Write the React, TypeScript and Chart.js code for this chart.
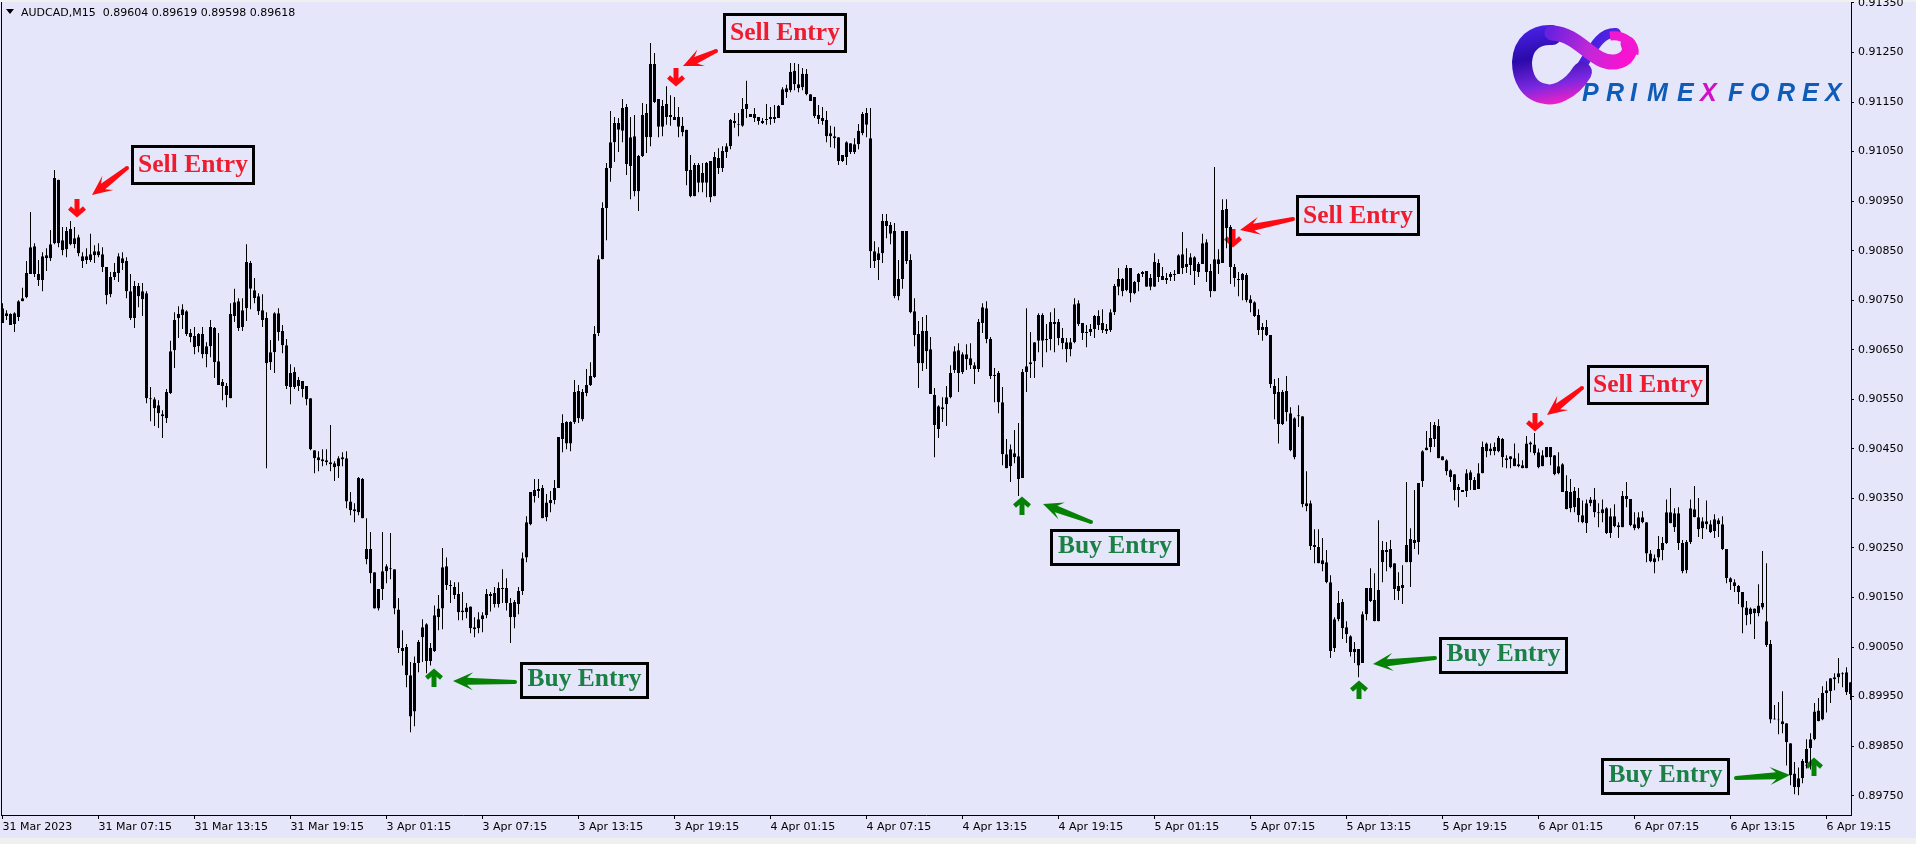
import React, { useEffect, useRef } from "react";
import Chart from "chart.js/auto";

// Candles are [open, high, low, close] in 1/100000 of a price unit.
const mar31Candles = [
[90734,90744,90704,90704],[90724,90730,90710,90718],[90722,90724,90700,90700],[90702,90726,90686,90724],[90716,90750,90708,90748],[90748,90775,90748,90754],[90756,90829,90754,90805],[90803,90928,90803,90857],
[90859,90865,90797,90803],[90803,90831,90779,90791],[90791,90847,90768,90839],[90841,90855,90809,90835],[90835,90892,90829,90863],[90865,91013,90863,90997],[90993,90993,90857,90865],[90871,90898,90841,90851],
[90853,90898,90837,90890],[90894,90910,90861,90863],[90863,90898,90855,90875],[90877,90882,90839,90845],[90839,90847,90815,90829],[90831,90855,90823,90839],[90831,90884,90827,90843],[90841,90861,90825,90849],
[90849,90865,90837,90841],[90843,90857,90807,90817],[90817,90817,90742,90760],[90762,90807,90756,90797],[90797,90825,90791,90807],[90805,90845,90787,90839],[90835,90847,90811,90825],[90829,90837,90754,90768],
[90768,90803,90710,90714],[90714,90789,90694,90779],[90779,90785,90736,90758],[90752,90785,90718,90768],[90764,90768,90542,90552],[90552,90575,90506,90550],[90550,90554,90496,90532],[90538,90548,90492,90522],
[90520,90528,90472,90516],[90512,90571,90502,90565],[90563,90668,90561,90647],[90649,90726,90613,90710],[90714,90738,90674,90722],[90720,90742,90692,90732],[90728,90730,90678,90682],[90684,90692,90665,90676],
[90678,90696,90641,90655],[90657,90684,90645,90682],[90682,90696,90633,90641],[90641,90665,90615,90657],[90657,90710,90635,90696],[90694,90696,90593,90625],[90627,90684,90579,90579],[90585,90591,90548,90577],
[90577,90583,90534,90559],[90552,90744,90552,90722],[90718,90773,90706,90746],[90748,90754,90688,90694],[90696,90754,90688,90730],[90734,90863,90708,90827],[90825,90829,90732,90773],[90770,90795,90744,90754],
[90758,90764,90720,90728],[90730,90762,90696,90710],[90714,90726,90411,90623],[90625,90670,90609,90645],[90645,90726,90603,90724],[90724,90734,90668,90686],[90688,90700,90643,90659],[90659,90672,90571,90577],
[90575,90621,90540,90603],[90605,90615,90571,90575],[90577,90595,90567,90589],[90587,90587,90554,90571],[90577,90577,90538,90550],[90552,90552,90447,90449],[90447,90447,90401,90431],[90433,90445,90405,90427],
[90429,90449,90415,90425],[90427,90449,90417,90423],[90423,90498,90405,90419],[90421,90425,90385,90413],[90415,90435,90391,90431],[90433,90443,90415,90429],[90431,90445,90330,90344],[90344,90363,90316,90326],
[90328,90340,90302,90324],[90322,90393,90316,90391],[90389,90391,90310,90310],[90227,90310,90217,90248],[90248,90282,90179,90199],[90201,90201,90128,90128],[90128,90167,90124,90167],[90167,90282,90145,90203],
];
const apr3Candles = [
[90203,90217,90179,90213],[90209,90280,90187,90207],[90207,90207,90116,90128],[90126,90149,90038,90048],[90048,90084,90013,90042],[90050,90056,89969,89993],[89993,90020,89878,89910],[89920,90031,89890,90018],
[90018,90064,89999,90060],[90070,90106,90020,90090],[90096,90098,89997,90022],[90022,90058,90013,90048],[90042,90134,90040,90114],[90110,90155,90084,90128],[90128,90250,90086,90211],[90213,90231,90165,90175],
[90175,90185,90139,90173],[90171,90181,90147,90155],[90157,90181,90104,90120],[90124,90161,90104,90120],[90120,90139,90108,90130],[90132,90132,90078,90088],[90090,90110,90070,90086],[90088,90120,90078,90106],
[90106,90120,90080,90114],[90114,90167,90108,90157],[90153,90161,90122,90157],[90159,90171,90130,90137],[90137,90181,90130,90169],[90169,90207,90139,90167],[90169,90189,90124,90139],[90139,90149,90058,90110],
[90110,90145,90088,90141],[90137,90171,90116,90163],[90163,90241,90155,90229],[90231,90314,90221,90302],[90298,90363,90296,90363],[90355,90389,90342,90367],[90369,90389,90351,90365],[90371,90377,90310,90310],
[90312,90359,90304,90342],[90340,90365,90322,90347],[90347,90387,90338,90371],[90371,90474,90371,90474],[90470,90520,90443,90502],[90504,90506,90449,90461],[90461,90506,90445,90504],[90504,90589,90500,90565],
[90567,90579,90502,90512],[90510,90571,90506,90565],[90563,90611,90556,90579],[90579,90625,90577,90597],[90595,90698,90593,90682],[90684,90841,90678,90833],[90833,90948,90833,90936],[90936,91027,90871,91017],
[91017,91132,90989,91069],[91069,91120,91029,91108],[91108,91118,91049,91094],[91092,91156,91069,91138],[91140,91146,91003,91025],[91021,91120,90954,91079],[91081,91124,90960,90970],[90970,91043,90930,91041],
[91041,91148,91039,91124],[91128,91146,91047,91079],[91079,91269,91061,91227],[91227,91249,91148,91150],[91156,91156,91079,91100],[91100,91154,91081,91142],[91146,91182,91104,91120],[91124,91164,91102,91120],
[91120,91160,91114,91114],[91120,91140,91079,91100],[91102,91120,91081,91089],[91094,91094,90982,91011],[91013,91043,90958,90960],[90960,91027,90960,91023],[91023,91027,90968,90987],[91007,91027,90968,90987],
[90987,91029,90958,91027],[91031,91031,90948,90958],[90960,91049,90960,91039],[91037,91057,91005,91017],[91017,91061,91009,91051],[91049,91067,91037,91061],[91061,91116,91055,91114],[91112,91128,91098,91108],
[91106,91128,91081,91104],[91102,91158,91100,91136],[91136,91193,91118,91146],[91126,91126,91120,91120],[91126,91138,91110,91118],[91120,91120,91104,91112],[91112,91118,91106,91108],[91116,91146,91104,91114],
];
const apr4Candles = [
[91116,91140,91104,91120],[91120,91144,91108,91116],[91118,91144,91118,91142],[91144,91180,91144,91176],[91178,91185,91158,91170],[91174,91229,91170,91211],[91213,91229,91174,91186],[91186,91227,91170,91178],
[91180,91219,91174,91207],[91207,91217,91164,91166],[91166,91166,91152,91152],[91160,91160,91118,91122],[91124,91144,91106,91116],[91118,91140,91104,91112],[91114,91132,91069,91081],[91087,91102,91059,91081],
[91081,91100,91057,91077],[91079,91079,91023,91031],[91031,91043,91029,91043],[91039,91071,91023,91069],[91067,91067,91045,91049],[91049,91077,91045,91065],[91065,91106,91055,91092],[91087,91130,91083,91126],
[91128,91138,91079,91104],[91077,91138,90815,90849],[90849,90869,90815,90829],[90831,90857,90791,90845],[90845,90924,90825,90910],[90910,90924,90875,90900],[90902,90908,90863,90884],[90890,90906,90754,90758],
[90758,90831,90750,90793],[90793,90890,90773,90890],[90890,90890,90823,90829],[90831,90843,90724,90726],[90728,90754,90657,90680],[90682,90708,90573,90623],[90623,90716,90607,90688],[90688,90720,90611,90647],
[90651,90676,90561,90561],[90559,90573,90433,90498],[90490,90538,90472,90536],[90530,90554,90504,90534],[90540,90577,90496,90554],[90554,90619,90552,90603],[90609,90657,90603,90647],[90649,90663,90565,90603],
[90605,90645,90601,90641],[90641,90661,90609,90631],[90633,90663,90611,90619],[90619,90625,90581,90611],[90611,90712,90605,90706],[90704,90744,90684,90736],[90734,90748,90663,90672],[90672,90676,90591,90597],
[90599,90613,90544,90597],[90603,90607,90522,90544],[90544,90575,90417,90439],[90439,90470,90411,90411],[90415,90459,90383,90449],[90441,90488,90421,90433],[90435,90502,90355,90389],[90391,90611,90391,90605],
[90605,90734,90565,90617],[90621,90686,90593,90625],[90627,90665,90593,90665],[90668,90724,90645,90720],[90720,90724,90615,90668],[90672,90702,90645,90670],[90672,90726,90649,90706],[90706,90734,90645,90702],
[90706,90712,90659,90674],[90674,90694,90651,90663],[90665,90674,90625,90651],[90651,90674,90637,90665],[90665,90754,90663,90742],[90744,90750,90698,90702],[90704,90704,90670,90684],[90684,90700,90655,90686],
[90686,90702,90678,90692],[90692,90720,90674,90718],[90718,90730,90690,90700],[90704,90732,90684,90690],[90692,90702,90682,90688],[90690,90732,90686,90726],[90726,90783,90720,90779],[90777,90815,90760,90793],
[90793,90795,90758,90768],[90770,90821,90768,90815],[90815,90815,90746,90764],[90764,90789,90762,90787],[90787,90805,90768,90803],[90803,90809,90797,90807],[90809,90809,90777,90777],[90795,90803,90770,90777],
];
const apr5Candles = [
[90777,90845,90777,90827],[90825,90833,90787,90797],[90799,90817,90791,90791],[90795,90805,90783,90791],[90797,90807,90789,90803],[90801,90811,90789,90803],[90803,90843,90803,90841],[90843,90888,90803,90815],
[90817,90855,90805,90823],[90821,90845,90801,90837],[90837,90839,90781,90809],[90807,90827,90797,90823],[90823,90884,90823,90865],[90867,90873,90787,90807],[90809,90823,90756,90768],[90768,91019,90768,90833],
[90833,90853,90803,90823],[90825,90954,90825,90932],[90934,90954,90855,90896],[90898,90902,90783,90817],[90817,90823,90777,90795],[90793,90807,90758,90791],[90791,90805,90750,90803],[90801,90805,90746,90750],
[90752,90760,90726,90744],[90746,90748,90716,90718],[90720,90732,90680,90690],[90690,90704,90668,90696],[90696,90710,90678,90680],[90680,90680,90573,90581],[90577,90591,90510,90561],[90565,90593,90461,90500],
[90500,90569,90498,90565],[90567,90597,90506,90524],[90522,90534,90445,90447],[90433,90514,90429,90512],[90518,90538,90494,90516],[90516,90516,90332,90338],[90334,90405,90324,90340],[90340,90346,90246,90254],
[90256,90288,90219,90252],[90252,90288,90219,90219],[90217,90270,90203,90225],[90221,90246,90179,90181],[90181,90195,90028,90042],[90048,90110,90040,90106],[90106,90163,90102,90139],[90141,90147,90066,90088],
[90090,90102,90058,90076],[90072,90074,90031,90040],[90040,90060,90018,90046],[90046,90046,89989,90013],[90018,90122,90018,90116],[90116,90169,90104,90169],[90169,90209,90141,90143],[90145,90199,90102,90102],
[90102,90306,90102,90165],[90221,90264,90181,90246],[90246,90262,90203,90242],[90248,90266,90209,90211],[90219,90219,90145,90167],[90173,90201,90145,90163],[90169,90215,90137,90175],[90256,90383,90221,90221],
[90221,90290,90171,90268],[90260,90367,90248,90266],[90262,90381,90237,90381],[90385,90447,90373,90445],[90447,90486,90447,90453],[90454,90504,90443,90472],[90470,90504,90454,90498],[90496,90510,90431,90431],
[90435,90435,90427,90427],[90427,90429,90397,90405],[90407,90409,90383,90393],[90399,90399,90346,90367],[90373,90379,90332,90367],[90367,90367,90363,90363],[90365,90409,90353,90401],[90403,90407,90367,90387],
[90387,90393,90367,90367],[90369,90421,90369,90401],[90401,90465,90401,90454],[90461,90463,90433,90445],[90445,90461,90437,90451],[90454,90463,90437,90445],[90445,90476,90443,90472],[90470,90472,90413,90433],
[90431,90437,90411,90427],[90429,90435,90411,90435],[90431,90461,90415,90415],[90419,90441,90413,90415],[90417,90427,90411,90411],[90411,90476,90411,90461],[90463,90465,90443,90459],[90459,90482,90437,90441],
];
const apr6Candles = [
[90443,90451,90411,90413],[90415,90447,90415,90437],[90433,90454,90433,90454],[90454,90454,90417,90433],[90437,90437,90397,90399],[90401,90443,90399,90415],[90419,90421,90363,90363],[90365,90397,90328,90328],
[90330,90389,90322,90363],[90365,90373,90322,90332],[90351,90371,90302,90316],[90316,90346,90300,90302],[90300,90348,90280,90340],[90340,90353,90334,90348],[90348,90371,90312,90322],[90322,90340,90292,90320],
[90320,90348,90302,90328],[90330,90332,90278,90280],[90280,90330,90270,90314],[90314,90338,90292,90294],[90296,90302,90270,90292],[90292,90365,90292,90355],[90355,90383,90332,90349],[90349,90349,90294,90296],
[90298,90322,90286,90290],[90290,90322,90288,90312],[90312,90324,90300,90302],[90302,90302,90221,90239],[90239,90246,90221,90223],[90221,90237,90199,90229],[90231,90274,90223,90248],[90246,90272,90225,90260],
[90260,90348,90258,90322],[90322,90371,90300,90300],[90292,90330,90282,90320],[90320,90332,90246,90260],[90260,90266,90199,90203],[90205,90266,90199,90262],[90262,90348,90258,90330],[90328,90375,90312,90312],
[90312,90351,90272,90288],[90290,90312,90268,90304],[90304,90346,90288,90298],[90298,90306,90280,90282],[90284,90318,90270,90308],[90306,90310,90272,90298],[90298,90314,90246,90248],[90248,90248,90179,90189],
[90189,90191,90165,90181],[90181,90187,90161,90173],[90173,90175,90137,90161],[90161,90161,90078,90130],[90130,90143,90094,90114],[90116,90130,90096,90128],[90128,90128,90066,90118],[90118,90177,90112,90134],
[90130,90244,90126,90139],[90102,90219,90050,90054],[90056,90064,89896,89904],[89906,89933,89904,89904],[89904,89939,89874,89902],[89900,89961,89876,89894],[89896,89896,89811,89858],[89856,89856,89771,89791],
[89795,89818,89753,89767],[89767,89807,89751,89785],[89785,89824,89775,89820],[89816,89864,89805,89844],[89846,89876,89803,89864],[89864,89937,89862,89920],[89922,89947,89900,89900],[89904,89971,89902,89957],
[89957,89981,89918,89963],[89961,89987,89937,89987],[89985,89997,89963,89989],[89989,90028,89977,89997],[89995,89999,89969,89997],[89999,90009,89953,89959],[89979,89979,89943,89955],
];

const xTickLabels = [
  "31 Mar 2023", "31 Mar 07:15", "31 Mar 13:15", "31 Mar 19:15",
  "3 Apr 01:15", "3 Apr 07:15", "3 Apr 13:15", "3 Apr 19:15",
  "4 Apr 01:15", "4 Apr 07:15", "4 Apr 13:15", "4 Apr 19:15",
  "5 Apr 01:15", "5 Apr 07:15", "5 Apr 13:15", "5 Apr 19:15",
  "6 Apr 01:15", "6 Apr 07:15", "6 Apr 13:15", "6 Apr 19:15",
];
const yTickValues = [
  0.8975, 0.8985, 0.8995, 0.9005, 0.9015, 0.9025, 0.9035, 0.9045, 0.9055,
  0.9065, 0.9075, 0.9085, 0.9095, 0.9105, 0.9115, 0.9125, 0.9135,
];
const barsPerTick = 24;
const headerText = "AUDCAD,M15  0.89604 0.89619 0.89598 0.89618";
const logoLetters = ["P", "R", "I", "M", "E", "X", "F", "O", "R", "E", "X"];
const logoLetterX = [1582, 1606, 1630, 1647, 1677, 1700, 1728, 1750, 1777, 1802, 1825];

const LAVENDER = "#E6E6FA";
const RED = "#FF0A12";
const GREEN = "#058205";
const SELL_TEXT = "#EE1C2E";
const BUY_TEXT = "#1B8045";

// annotation layout, [left, top, right, bottom]
const sellBoxes = [[131, 145, 255, 185], [723, 13, 847, 53], [1296, 195, 1420, 236], [1587, 365, 1709, 405]];
const buyBoxes = [[520, 662, 649, 699], [1050, 529, 1180, 566], [1439, 637, 1568, 674], [1601, 758, 1730, 795]];
// [tailX, tailY, tipX, tipY]
const sellPointers = [[127, 168, 92, 195], [716, 51, 683, 66], [1293, 219, 1240, 230], [1582, 388, 1547, 415]];
const buyPointers = [[515, 682, 453, 681], [1091, 522, 1043, 504], [1435, 658, 1373, 664], [1736, 778, 1790, 775]];
// [centreX, tipY]
const sellMarkers = [[77, 218], [676, 87], [1233, 248], [1535, 432]];
const buyMarkers = [[434, 668], [1022, 496], [1359, 680], [1814, 757]];

const allCandles = [...mar31Candles, ...apr3Candles, ...apr4Candles, ...apr5Candles, ...apr6Candles];
const opens = allCandles.map((c) => c[0] / 1e5);
const highs = allCandles.map((c) => c[1] / 1e5);
const lows = allCandles.map((c) => c[2] / 1e5);
const closes = allCandles.map((c) => c[3] / 1e5);

function drawPointer(ctx: CanvasRenderingContext2D, p: number[], color: string) {
  const [tx, ty, hx, hy] = p;
  const len = Math.hypot(hx - tx, hy - ty);
  const ux = (hx - tx) / len, uy = (hy - ty) / len;
  const nx = -uy, ny = ux;
  const at = (d: number, w: number): [number, number] => [tx + ux * d + nx * w, ty + uy * d + ny * w];
  const pts = [at(0, 2), at(len - 14, 3.5), at(len - 20, 9), at(len, 0), at(len - 20, -9), at(len - 14, -3.5), at(0, -2)];
  ctx.save();
  ctx.fillStyle = color;
  ctx.beginPath();
  pts.forEach((q, i) => (i ? ctx.lineTo(q[0], q[1]) : ctx.moveTo(q[0], q[1])));
  ctx.closePath();
  ctx.fill();
  ctx.beginPath();
  ctx.arc(tx, ty, 2, 0, Math.PI * 2);
  ctx.fill();
  ctx.restore();
}

function drawMarker(ctx: CanvasRenderingContext2D, cx: number, tip: number, dir: number, color: string) {
  // dir=1 points down, dir=-1 points up
  ctx.save();
  ctx.strokeStyle = color;
  ctx.lineWidth = 5;
  ctx.lineJoin = "miter";
  ctx.beginPath();
  ctx.moveTo(cx, tip - dir * 19);
  ctx.lineTo(cx, tip - dir * 3);
  ctx.stroke();
  ctx.lineWidth = 4.5;
  ctx.beginPath();
  ctx.moveTo(cx - 7.5, tip - dir * 10);
  ctx.lineTo(cx, tip - dir * 3.5);
  ctx.lineTo(cx + 7.5, tip - dir * 10);
  ctx.stroke();
  ctx.restore();
}

function drawBox(ctx: CanvasRenderingContext2D, b: number[], label: string, color: string) {
  const [l, t, r, bt] = b;
  ctx.save();
  ctx.strokeStyle = "#000";
  ctx.lineWidth = 3;
  ctx.strokeRect(l + 1.5, t + 1.5, r - l - 3, bt - t - 3);
  ctx.font = "bold 25.5px 'Liberation Serif'";
  ctx.fillStyle = color;
  ctx.textAlign = "center";
  ctx.textBaseline = "alphabetic";
  ctx.fillText(label, (l + r) / 2, bt - 13);
  ctx.restore();
}

function drawLogo(ctx: CanvasRenderingContext2D) {
  ctx.save();
  ctx.lineCap = "round";
  // right loop, behind
  let g = ctx.createLinearGradient(1590, 30, 1636, 60);
  g.addColorStop(0, "#3A1CE0");
  g.addColorStop(1, "#8030E0");
  ctx.strokeStyle = g;
  ctx.lineWidth = 10;
  ctx.beginPath();
  ctx.moveTo(1574, 78);
  ctx.bezierCurveTo(1592, 52, 1598, 32, 1616, 33);
  ctx.stroke();
  // left loop
  g = ctx.createLinearGradient(1540, 24, 1555, 104);
  g.addColorStop(0, "#4A22E8");
  g.addColorStop(0.4, "#2A0AA8");
  g.addColorStop(0.75, "#7A28E0");
  g.addColorStop(1, "#F020C8");
  ctx.strokeStyle = g;
  ctx.lineWidth = 20;
  ctx.beginPath();
  ctx.moveTo(1582, 72);
  ctx.bezierCurveTo(1570, 92, 1552, 96, 1546, 94);
  ctx.bezierCurveTo(1528, 92, 1522, 76, 1522, 62);
  ctx.bezierCurveTo(1523, 44, 1535, 34, 1552, 35);
  ctx.stroke();
  // crossing band
  g = ctx.createLinearGradient(1550, 30, 1630, 60);
  g.addColorStop(0, "#6A20E0");
  g.addColorStop(0.5, "#C028D8");
  g.addColorStop(1, "#FF10D0");
  ctx.strokeStyle = g;
  ctx.lineWidth = 15;
  ctx.beginPath();
  ctx.moveTo(1552, 33);
  ctx.bezierCurveTo(1580, 34, 1592, 64, 1615, 62);
  ctx.bezierCurveTo(1628, 60, 1632, 50, 1628, 44);
  ctx.stroke();
  ctx.lineCap = "butt";
  ctx.strokeStyle = "#F018D0";
  ctx.lineWidth = 9;
  ctx.beginPath();
  ctx.moveTo(1610, 36);
  ctx.bezierCurveTo(1624, 34, 1636, 44, 1634, 54);
  ctx.stroke();
  // letters
  ctx.font = "italic bold 25px 'Liberation Sans'";
  ctx.textBaseline = "alphabetic";
  logoLetters.forEach((ch, i) => {
    ctx.fillStyle = i === 5 ? "#D010C8" : "#0F5CB8";
    ctx.fillText(ch, logoLetterX[i], 100.5);
  });
  ctx.restore();
}

const terminalPlugin = {
  id: "terminal",
  beforeDraw(chart: any) {
    const { ctx, width, height } = chart;
    ctx.save();
    ctx.fillStyle = "#F0F0F0";
    ctx.fillRect(0, 0, width, height);
    ctx.fillStyle = LAVENDER;
    ctx.fillRect(0, 2, width, 836);
    ctx.restore();
  },
  beforeDatasetsDraw(chart: any) {
    const { ctx } = chart;
    sellMarkers.forEach((m) => drawMarker(ctx, m[0], m[1], 1, RED));
    buyMarkers.forEach((m) => drawMarker(ctx, m[0], m[1], -1, GREEN));
  },
  afterDraw(chart: any) {
    const { ctx, chartArea } = chart;
    ctx.save();
    ctx.fillStyle = "#000";
    ctx.fillRect(1, chartArea.top, 1, chartArea.bottom - chartArea.top + 1);
    ctx.beginPath();
    ctx.moveTo(6, 9);
    ctx.lineTo(14, 9);
    ctx.lineTo(10, 14);
    ctx.closePath();
    ctx.fill();
    ctx.font = "11px 'DejaVu Sans'";
    ctx.textBaseline = "alphabetic";
    ctx.fillText(headerText, 21, 16);
    ctx.restore();
    sellBoxes.forEach((b) => drawBox(ctx, b, "Sell Entry", SELL_TEXT));
    buyBoxes.forEach((b) => drawBox(ctx, b, "Buy Entry", BUY_TEXT));
    sellPointers.forEach((p) => drawPointer(ctx, p, RED));
    buyPointers.forEach((p) => drawPointer(ctx, p, GREEN));
    drawLogo(ctx);
  },
};

export default function App() {
  const ref = useRef<HTMLCanvasElement | null>(null);
  useEffect(() => {
    document.body.style.margin = "0";
    document.body.style.overflow = "hidden";
    const axisFont = { family: "'DejaVu Sans'", size: 11 };
    const chart = new Chart(ref.current as HTMLCanvasElement, {
      type: "bar",
      data: {
        datasets: [
          {
            label: "wick",
            data: allCandles.map((_, i) => ({ x: i, y: [lows[i], highs[i]] })),
            backgroundColor: "#000",
            borderWidth: 0,
            barThickness: 1,
            inflateAmount: 0,
            grouped: false,
          },
          {
            label: "body",
            data: allCandles.map((_, i) => ({ x: i, y: [opens[i], closes[i]] })),
            backgroundColor: (c: any) => (closes[c.dataIndex] >= opens[c.dataIndex] ? LAVENDER : "#000"),
            borderColor: "#000",
            borderWidth: 1,
            borderSkipped: false,
            barThickness: 3,
            inflateAmount: 0,
            grouped: false,
          },
        ],
      } as any,
      options: {
        animation: false,
        responsive: false,
        devicePixelRatio: 1,
        layout: { autoPadding: false, padding: { left: 1, top: 2, right: 0, bottom: 0 } },
        plugins: { legend: { display: false }, tooltip: { enabled: false } },
        scales: {
          x: {
            type: "linear",
            offset: false,
            min: -0.375,
            max: 462.125,
            grid: { display: true, drawOnChartArea: false, drawTicks: true, tickLength: 4, color: "#000", offset: false },
            border: { display: true, color: "#000", width: 1 },
            afterFit: (s: any) => { s.height = 29; s.paddingLeft = 0; s.paddingRight = 0; },
            afterBuildTicks: (s: any) => { s.ticks = xTickLabels.map((_, k) => ({ value: k * barsPerTick })); },
            ticks: {
              autoSkip: false,
              maxRotation: 0,
              minRotation: 0,
              align: "start",
              padding: 2,
              color: "#000",
              font: axisFont,
              callback: (v: number) => xTickLabels[Math.round(v / barsPerTick)],
            },
          },
          y: {
            type: "linear",
            position: "right",
            min: 0.89711,
            max: 0.91352,
            grid: { display: true, drawOnChartArea: false, drawTicks: true, tickLength: 3, color: "#000" },
            border: { display: true, color: "#000", width: 1 },
            afterFit: (s: any) => { s.width = 65; s.paddingTop = 0; s.paddingBottom = 0; },
            afterBuildTicks: (s: any) => { s.ticks = yTickValues.map((value) => ({ value })); },
            ticks: {
              autoSkip: false,
              padding: 4,
              color: "#000",
              font: axisFont,
              callback: (v: number) => v.toFixed(5),
            },
          },
        },
      } as any,
      plugins: [terminalPlugin],
    });
    return () => chart.destroy();
  }, []);
  return <canvas ref={ref} width={1916} height={844} style={{ display: "block", width: 1916, height: 844 }} />;
}
